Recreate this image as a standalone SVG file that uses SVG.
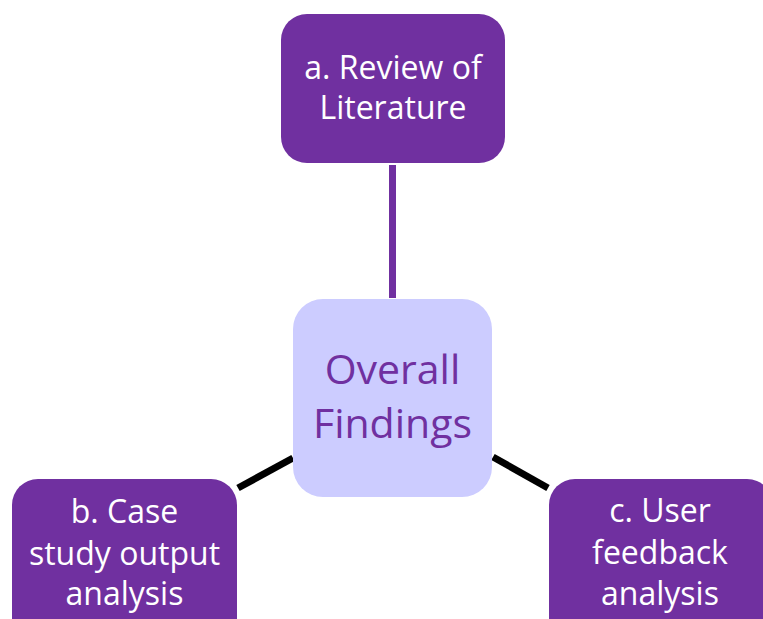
<svg xmlns="http://www.w3.org/2000/svg" width="763" height="619" viewBox="0 0 763 619">
<style>
.box{fill:#7030A0;}
.center{fill:#CCCCFF;}
.t{font-family:"Open Sans","Noto Sans",sans-serif;font-size:32px;fill:#FFFFFF;text-anchor:middle;}
.tc{font-family:"Open Sans","Noto Sans",sans-serif;font-size:41px;fill:#7030A0;text-anchor:middle;}
.conn{stroke-width:7;fill:none;}
</style>
<rect width="763" height="619" fill="#FFFFFF"/>
<g id="connectors">
<line class="conn" x1="392.5" y1="165" x2="392.5" y2="298" stroke="#7030A0"/>
<line class="conn" x1="238" y1="488" x2="293" y2="458" stroke="#000000"/>
<line class="conn" x1="493" y1="457" x2="548" y2="488" stroke="#000000"/>
</g>
<g id="node-a">
<rect class="box" x="281" y="14" width="224" height="149" rx="26"/>
<text class="t" x="393" y="79">a. Review of</text>
<text class="t" x="393" y="119">Literature</text>
</g>
<g id="node-center">
<rect class="center" x="293" y="299" width="199" height="198" rx="30"/>
<text class="tc" x="392.5" y="384">Overall</text>
<text class="tc" x="392.5" y="438">Findings</text>
</g>
<g id="node-b">
<rect class="box" x="12" y="479" width="225" height="170" rx="26"/>
<text class="t" x="124.5" y="523">b. Case</text>
<text class="t" x="124.5" y="565">study output</text>
<text class="t" x="124.5" y="605">analysis</text>
</g>
<g id="node-c">
<rect class="box" x="549" y="479" width="224" height="170" rx="26"/>
<text class="t" x="660" y="522">c. User</text>
<text class="t" x="660" y="564">feedback</text>
<text class="t" x="660" y="605">analysis</text>
</g>
</svg>
